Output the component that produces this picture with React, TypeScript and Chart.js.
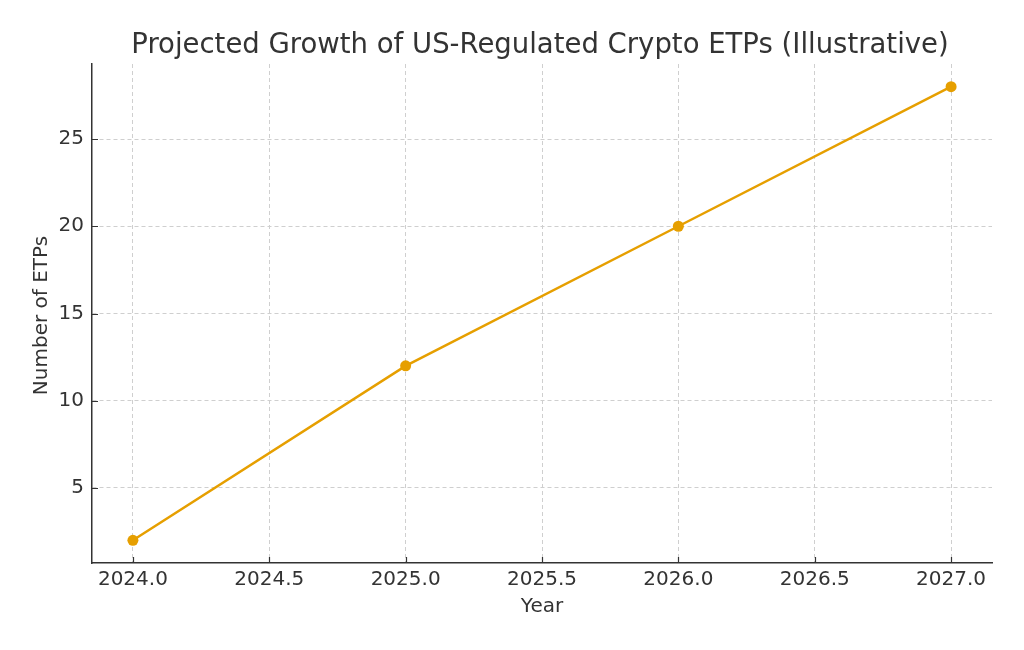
import React, { useEffect, useRef } from "react";
import { Chart, registerables } from "chart.js";

Chart.register(...registerables);

const years = [2024, 2025, 2026, 2027];
const etpCounts = [2, 12, 20, 28];
const xTickValues = [2024.0, 2024.5, 2025.0, 2025.5, 2026.0, 2026.5, 2027.0];
const yTickValues = [5, 10, 15, 20, 25];

const titleText = "Projected Growth of US-Regulated Crypto ETPs (Illustrative)";
const xLabel = "Year";
const yLabel = "Number of ETPs";

const FONT = "'DejaVu Sans', sans-serif";
const LINE_COLOR = "#E69F00";
const TEXT_COLOR = "#333333";
const GRID_COLOR = "#cfcfcf";
const AXIS_COLOR = "#333333";

const textPlugin = {
  id: "textPlugin",
  afterDraw(chart: any) {
    const { ctx, chartArea } = chart;
    const cx = (chartArea.left + chartArea.right) / 2;
    const cy = (chartArea.top + chartArea.bottom) / 2;
    ctx.save();
    // inward tick marks
    ctx.strokeStyle = AXIS_COLOR;
    ctx.lineWidth = 1.2;
    const xs = chart.scales.x;
    const ys = chart.scales.y;
    ctx.beginPath();
    xs.ticks.forEach((t: any) => {
      const px = Math.round(xs.getPixelForValue(t.value)) + 0.5;
      ctx.moveTo(px, chartArea.bottom);
      ctx.lineTo(px, chartArea.bottom - 6);
    });
    ys.ticks.forEach((t: any) => {
      const py = Math.round(ys.getPixelForValue(t.value)) + 0.5;
      ctx.moveTo(chartArea.left, py);
      ctx.lineTo(chartArea.left + 6, py);
    });
    ctx.stroke();

    ctx.fillStyle = TEXT_COLOR;
    ctx.textAlign = "center";
    ctx.textBaseline = "alphabetic";
    ctx.font = `27.5px ${FONT}`;
    ctx.fillText(titleText, cx - 2, 53);
    ctx.font = `20px ${FONT}`;
    ctx.fillText(xLabel, cx, 612);
    ctx.translate(47, cy + 2);
    ctx.rotate(-Math.PI / 2);
    ctx.fillText(yLabel, 0, 0);
    ctx.restore();
  },
};

export default function App() {
  const ref = useRef<HTMLCanvasElement | null>(null);

  useEffect(() => {
    document.body.style.margin = "0";
    const canvas = ref.current;
    if (!canvas) return;
    const chart = new Chart(canvas, {
      type: "line",
      data: {
        datasets: [
          {
            data: years.map((y, i) => ({ x: y, y: etpCounts[i] })),
            borderColor: LINE_COLOR,
            backgroundColor: LINE_COLOR,
            borderWidth: 2.5,
            pointRadius: 5.5,
            pointHoverRadius: 5.5,
            pointBorderWidth: 0,
            tension: 0,
          },
        ],
      },
      options: {
        animation: false,
        responsive: false,
        devicePixelRatio: 1,
        layout: { padding: { top: 64, right: 32, left: 0, bottom: 0 } },
        plugins: {
          legend: { display: false },
          title: { display: false },
          tooltip: { enabled: false },
        },
        scales: {
          x: {
            type: "linear",
            min: 2023.85,
            max: 2027.15,
            afterFit: (s: any) => {
              s.height = 87;
            },
            afterBuildTicks: (s: any) => {
              s.ticks = xTickValues.map((v) => ({ value: v }));
            },
            ticks: {
              autoSkip: false,
              maxRotation: 0,
              padding: 5,
              color: TEXT_COLOR,
              font: { family: FONT, size: 20 },
              callback: (v: any) => Number(v).toFixed(1),
            },
            grid: {
              color: GRID_COLOR,
              lineWidth: 1,
              drawTicks: false,
            },
            border: { display: true, color: AXIS_COLOR, width: 1.5, dash: [4, 3] },
          },
          y: {
            type: "linear",
            min: 0.7,
            max: 29.3,
            afterFit: (s: any) => {
              s.width = 92;
            },
            afterBuildTicks: (s: any) => {
              s.ticks = yTickValues.map((v) => ({ value: v }));
            },
            ticks: {
              autoSkip: false,
              padding: 8,
              color: TEXT_COLOR,
              font: { family: FONT, size: 20 },
              callback: (v: any) => String(v),
            },
            grid: {
              color: GRID_COLOR,
              lineWidth: 1,
              drawTicks: false,
            },
            border: { display: true, color: AXIS_COLOR, width: 1.5, dash: [4, 3] },
          },
        },
      },
      plugins: [textPlugin],
    });
    return () => chart.destroy();
  }, []);

  return (
    <div style={{ position: "absolute", left: 0, top: 0, width: 1024, height: 650, background: "#fff" }}>
      <canvas ref={ref} width={1024} height={650} style={{ width: 1024, height: 650 }} />
    </div>
  );
}
